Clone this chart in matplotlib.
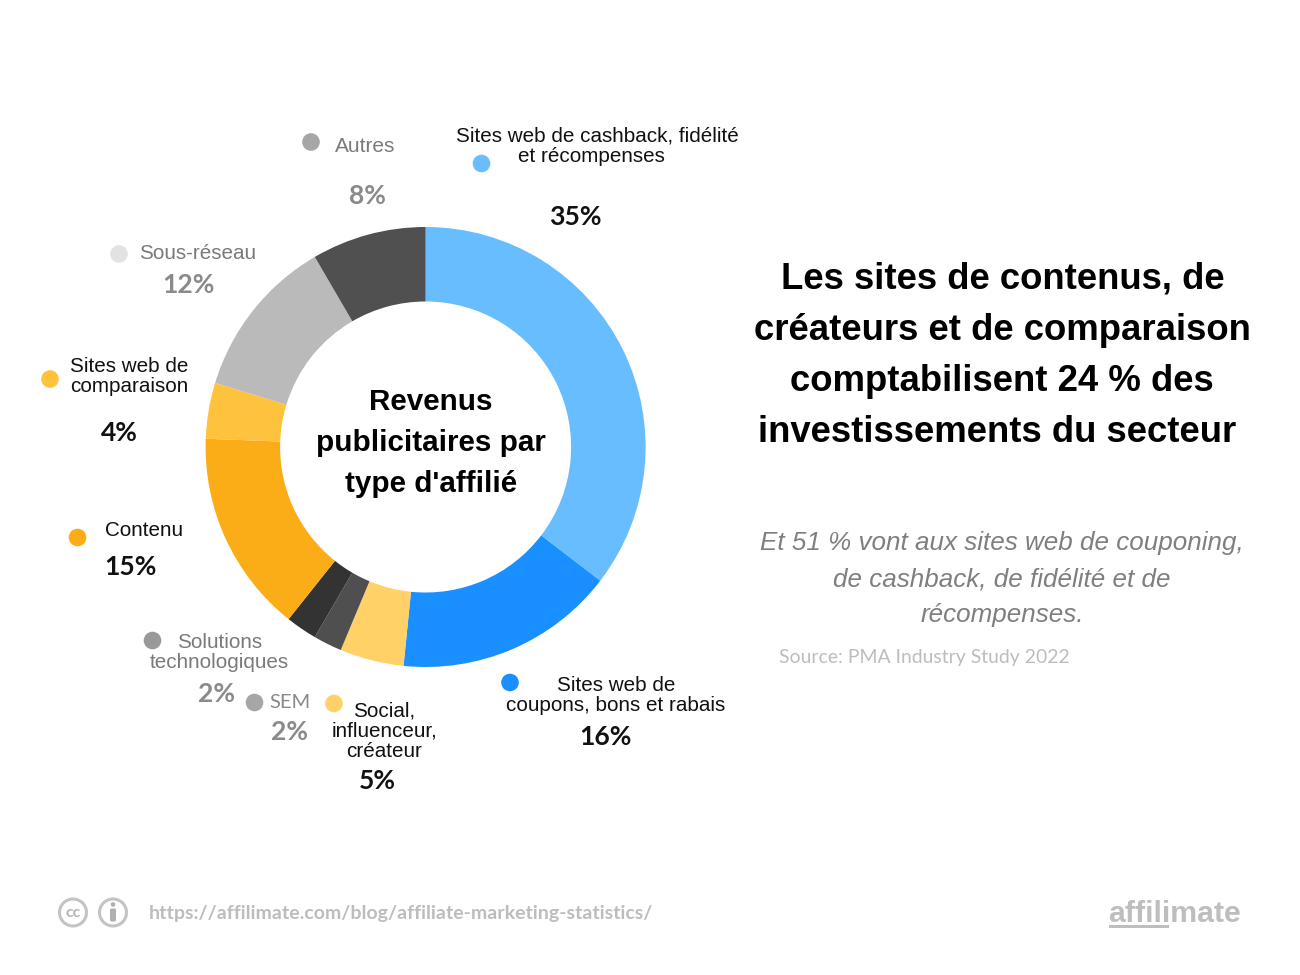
import matplotlib
matplotlib.use("Agg")
import matplotlib.pyplot as plt
from matplotlib.patches import Circle, Rectangle, FancyBboxPatch

W, H = 1300, 975
categories = ["Sites web de cashback, fidélité et récompenses", "Sites web de coupons, bons et rabais",
              "Social, influenceur, créateur", "SEM", "Solutions technologiques", "Contenu",
              "Sites web de comparaison", "Sous-réseau", "Autres"]
# shares as measured on the ring
values = [35.4, 16.2, 4.7, 2.1, 2.3, 14.9, 4.1, 11.9, 8.4]
colors = ["#68BDFF", "#1A8FFF", "#FFD166", "#4F4F4F", "#333333", "#FBAD17", "#FFC23C", "#BABABA", "#505050"]
percent_labels = ["35%", "16%", "5%", "2%", "2%", "15%", "4%", "12%", "8%"]
dot_colors = ["#6ABEFF", "#1A8FFF", "#FFD166", "#A6A6A6", "#999999", "#FBAD17", "#FFC23C", "#E2E2E2", "#A6A6A6"]

title_lines = ["Les sites de contenus, de", "créateurs et de comparaison", "comptabilisent 24 % des", "investissements du secteur"]
sub_lines = ["Et 51 % vont aux sites web de couponing,", "de cashback, de fidélité et de", "récompenses."]
center_lines = ["Revenus", "publicitaires par", "type d'affilié"]

SANS = "Liberation Sans"
LATO = "Lato"
def fs(px):
    return px * 0.72

fig = plt.figure(figsize=(13, 9.75), dpi=100, facecolor="white")

# donut
cx, cy, R, r = 425.6, 447, 220, 145.5
pax = fig.add_axes([(cx - R) / W, 1 - (cy + R) / H, 2 * R / W, 2 * R / H])
pax.pie(values, colors=colors, startangle=90, counterclock=False, radius=1,
        wedgeprops=dict(width=1 - r / R, linewidth=0))
pax.set_xlim(-1, 1); pax.set_ylim(-1, 1)

# overlay in pixel coordinates
ax = fig.add_axes([0, 0, 1, 1], zorder=3)
ax.set_xlim(0, W); ax.set_ylim(H, 0); ax.axis("off"); ax.patch.set_alpha(0)

def txt(x, y, s, px, color="black", weight="normal", family=SANS, ha="center", style="normal"):
    ax.text(x, y, s, fontsize=fs(px), color=color, weight=weight, family=family,
            ha=ha, va="center", style=style)

for line, y in zip(center_lines, [402, 443, 484]):
    txt(431, y, line, 29.6, weight="bold")
for line, y, x in zip(title_lines, [279.5, 330.5, 381.5, 432], [1002.5, 1002, 1002, 997.5]):
    txt(x, y, line, 36.55, weight="bold")
for line, y in zip(sub_lines, [543, 579, 615]):
    txt(1002, y, line, 26, color="#7F7F7F", style="italic")
txt(779, 658, "Source: PMA Industry Study 2022", 19.35, color="#BDBDBD", family=LATO, ha="left")

# legend dots, same order as categories
dot_x = [481.5, 510, 334, 254.5, 152.5, 77.5, 50, 119, 311]
dot_y = [163.5, 682.5, 703.5, 702.5, 640.5, 537.5, 379, 254, 142]
for x, y, c in zip(dot_x, dot_y, dot_colors):
    ax.add_patch(Circle((x, y), 8.8, facecolor=c, edgecolor="none"))

BLK, GR1, GR2 = "#111111", "#7A7A7A", "#8A8A8A"
LS = 20.65
# category labels
txt(597, 136.5, "Sites web de cashback, fidélité", LS, BLK)
txt(591, 156.5, "et récompenses", LS, BLK)
txt(616, 685.5, "Sites web de", LS, BLK)
txt(616, 705.5, "coupons, bons et rabais", LS, BLK)
txt(384.5, 711, "Social,", LS, BLK)
txt(384.5, 731, "influenceur,", LS, BLK)
txt(384.5, 751.5, "créateur", LS, BLK)
txt(269, 703, "SEM", 20.2, GR2, family=LATO, ha="left")
txt(220, 642.5, "Solutions", LS, GR1)
txt(219.5, 662.5, "technologiques", LS, GR1)
txt(105.5, 530.5, "Contenu", LS, BLK, ha="left")
txt(129, 366.5, "Sites web de", LS, BLK)
txt(129, 386.5, "comparaison", LS, BLK)
txt(139, 253.5, "Sous-réseau", LS, GR1, ha="left")
txt(335, 146.5, "Autres", 20.9, GR1, ha="left")

# percentages, same order as categories
pct_x = [575.5, 605, 377, 290, 216.5, 130.5, 119, 188.5, 367]
pct_y = [217, 737, 781, 732, 694, 567, 433, 285, 196]
pct_c = [BLK, BLK, BLK, GR2, GR2, BLK, BLK, GR2, GR2]
for x, y, s, c in zip(pct_x, pct_y, percent_labels, pct_c):
    txt(x, y, s, 26.5, c, weight="bold", family=LATO)

# footer
G = "#C4C4C4"
ax.add_patch(Circle((73, 912.5), 13.5, facecolor="none", edgecolor=G, linewidth=2.2))
txt(73, 913, "cc", 16, "#B5B5B5", weight="bold", family=LATO)
ax.add_patch(Circle((113, 912.5), 13.5, facecolor="none", edgecolor=G, linewidth=2.2))
ax.add_patch(Circle((113, 904.5), 2.3, facecolor="#B0B0B0", edgecolor="none"))
ax.add_patch(FancyBboxPatch((110, 908.5), 6, 13, boxstyle="round,pad=0,rounding_size=1.5",
                            facecolor="#B0B0B0", edgecolor="none"))
txt(149, 913, "https://affilimate.com/blog/affiliate-marketing-statistics/", 19.5, "#BDBDBD", weight="bold", family=LATO, ha="left")
txt(1108, 914, "affilimate", 30.3, "#BEBEBE", weight="bold", ha="left")
ax.add_patch(Rectangle((1109, 925), 60, 2.5, facecolor="#BEBEBE", edgecolor="none"))

fig.savefig("out.png", dpi=100, facecolor="white")
